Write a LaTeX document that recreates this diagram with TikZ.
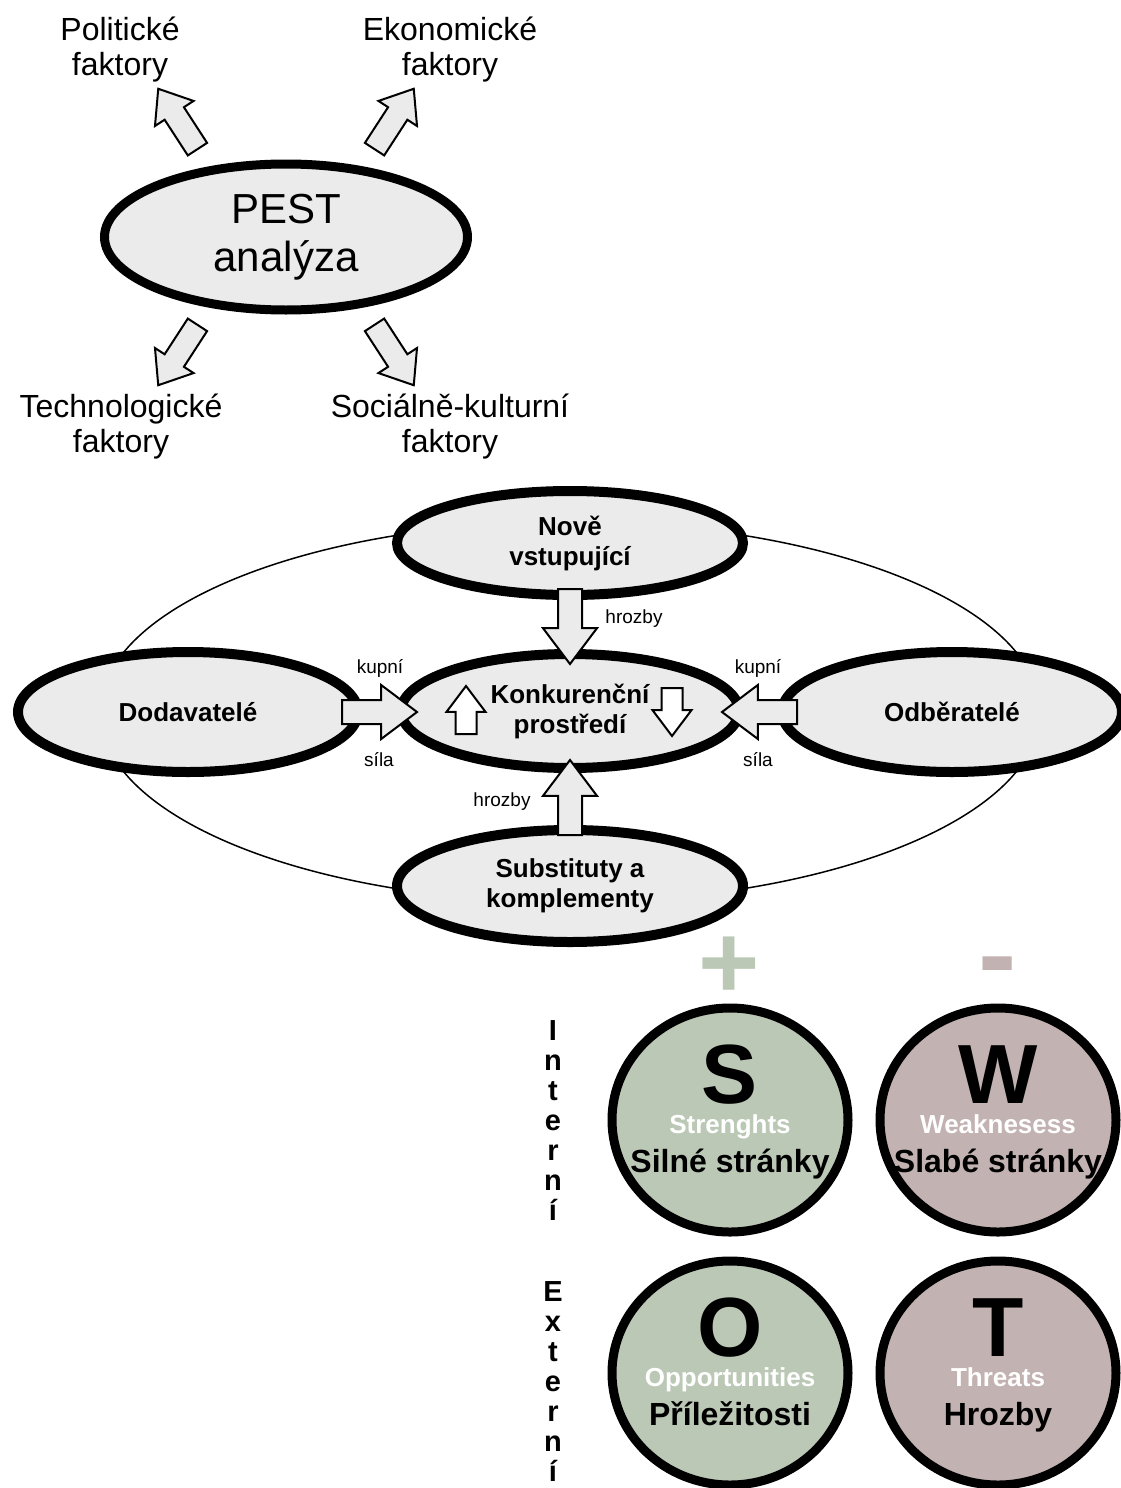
\documentclass[tikz,border=0pt]{standalone}
\usepackage{fontspec}
\setmainfont{Liberation Sans}
\usetikzlibrary{shapes.geometric,shapes.arrows}
\definecolor{OvalGray}{HTML}{EBEBEB}
\definecolor{SwotGreen}{HTML}{BCC8B6}
\definecolor{SwotRose}{HTML}{C3B2B2}
\newcommand{\setfs}[2]{\fontsize{#1}{#2}\selectfont}

\begin{document}
\begin{tikzpicture}[
  x=1pt, y=-1pt,
  % PEST oval and the four factor labels
  pestoval/.style={ellipse, draw, line width=9pt, fill=OvalGray,
                   minimum width=363pt, minimum height=146pt,
                   align=center, font=\setfs{42}{48}},
  factor/.style={align=center, font=\setfs{32}{35}},
  % Porter ovals (centre, top, bottom) and the two side ovals
  force/.style={ellipse, draw, line width=10pt, fill=OvalGray,
                minimum width=346pt, minimum height=104pt, inner sep=0pt,
                align=center, font=\bfseries\setfs{26}{30}},
  side/.style={force, minimum width=340pt, minimum height=120pt},
  hint/.style={font=\setfs{19}{21}},
  % block arrows
  blockarr/.style={single arrow, draw, line width=2pt, fill=OvalGray,
                   inner xsep=0pt, inner ysep=11pt, minimum width=52pt,
                   single arrow head extend=15pt, single arrow tip angle=74,
                   minimum height=75pt, anchor=tail},
  pestarr/.style={blockarr, inner ysep=10.5pt, minimum width=44pt,
                  single arrow head extend=11.5pt, single arrow tip angle=76,
                  minimum height=72pt},
  smallarr/.style={blockarr, fill=white, inner ysep=9.5pt, minimum width=37pt,
                   single arrow head extend=9pt, minimum height=48pt},
  % SWOT ovals and their texts
  swot/.style={ellipse, draw, line width=9pt, minimum width=236pt,
               minimum height=224pt, inner sep=0pt},
  bigletter/.style={font=\bfseries\setfs{84}{84}},
  engl/.style={anchor=base, text=white, font=\bfseries\setfs{26}{28}},
  czech/.style={anchor=base, font=\bfseries\setfs{32}{34}},
  sign/.style={anchor=base, inner sep=0pt, font=\bfseries},
  vert/.style={align=center, font=\bfseries\setfs{29}{30}},
]
\useasboundingbox (0,0) rectangle (1120,1488);

%% ── PEST analysis ─────────────────────────────────────────────────────
\node[pestoval] (pest) at (286,237) {PEST\\analýza};
\node[factor] (pol)  at (120,50)  {Politické\\faktory};
\node[factor] (eko)  at (450,50)  {Ekonomické\\faktory};
\node[factor] (tech) at (121,427) {Technologické\\faktory};
\node[factor] (soc)  at (450,427) {Sociálně-kulturní\\faktory};

\foreach \nm/\x/\y/\ang in {ppol/198/150/123, peko/374/150/57,
                           ptech/198/324/-123, psoc/374/324/-57}
  \node[pestarr, rotate=\ang] (\nm) at (\x,\y) {};

%% ── Porter's five forces ──────────────────────────────────────────────
\node[draw, ellipse, line width=1.5pt, minimum width=940pt,
      minimum height=380pt] (ring) at (570,712) {};

\node[force] (new) at (570,543) {Nově\\vstupující};
\node[force, minimum width=338pt, minimum height=114pt] (comp) at (570,711)
  {Konkurenční\\prostředí};
\node[side] (supp) at (188,712) {Dodavatelé};
\node[side] (buy)  at (952,712) {Odběratelé};
\node[force, minimum height=112pt] (subs) at (570,886) {Substituty a\\komplementy};

% arrows into the centre oval
\node[blockarr, rotate=-90] (tin) at (570,588) {};
\node[blockarr, rotate=90]  (bin) at (570,836) {};
\node[blockarr, rotate=0]   (lin) at (341,712) {};
\node[blockarr, rotate=180] (rin) at (798,712) {};
\node[smallarr, rotate=90]  (up)   at (466,735) {};
\node[smallarr, rotate=-90] (down) at (672,687) {};

\node[hint] (thr1) at (634,619) {hrozby};
\node[hint] (thr2) at (502,802) {hrozby};
\node[hint] (kup1) at (380,668) {kupní};
\node[hint] (sil1) at (379,760) {síla};
\node[hint] (kup2) at (758,668) {kupní};
\node[hint] (sil2) at (758,760) {síla};

%% ── SWOT ──────────────────────────────────────────────────────────────
\node[sign, text=SwotGreen, font=\bfseries\setfs{105}{105}] (plus)  at (729,998) {+};
\node[sign, text=SwotRose,  font=\bfseries\setfs{115}{115}] (minus) at (998,993) {-};

\foreach \c/\x/\y/\col/\en/\cz in {S/730/1120/SwotGreen/Strenghts/Silné stránky,
                                   W/998/1120/SwotRose/Weaknesess/Slabé stránky,
                                   O/730/1373/SwotGreen/Opportunities/Příležitosti,
                                   T/998/1373/SwotRose/Threats/Hrozby} {
  \node[swot, fill=\col] (\c) at (\x,\y) {};
  \node[bigletter] (\c let) at (\x,\y-45) {\c};
  \node[engl]      (\c en)  at (\x,\y+13) {\en};
  \node[czech]     (\c cz)  at (\x,\y+52) {\cz};
}

\node[vert] (int) at (553,1121) {I\\n\\t\\e\\r\\n\\í};
\node[vert] (ext) at (553,1382) {E\\x\\t\\e\\r\\n\\í};

\end{tikzpicture}
\end{document}
